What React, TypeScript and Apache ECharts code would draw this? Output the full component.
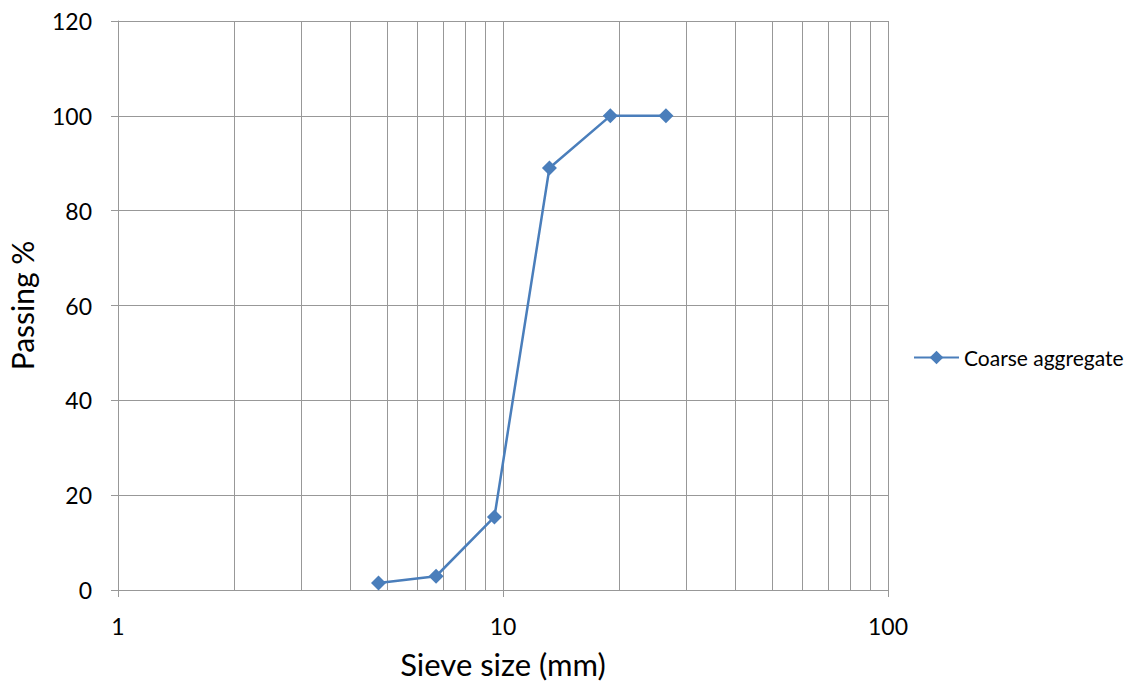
import React, { useEffect, useRef } from "react";
import * as echarts from "echarts";

const sieveSizes = [4.75, 6.7, 9.5, 13.2, 19, 26.5];
const passing = [1.5, 2.9, 15.4, 89, 100, 100];
const minorGridX = [2, 3, 4, 5, 6, 7, 8, 9, 20, 30, 40, 50, 60, 70, 80, 90];
const seriesName = "Coarse aggregate";

export default function App() {
  const ref = useRef<HTMLDivElement>(null);
  useEffect(() => {
    document.body.style.margin = "0";
    const chart = echarts.init(ref.current!, undefined, { renderer: "svg" });
    const font = "Lato, 'Open Sans', sans-serif";
    const gridColor = "#989898";
    chart.setOption({
      animation: false,
      backgroundColor: "#ffffff",
      textStyle: { fontFamily: font },
      grid: { left: 118, right: 243, top: 21, bottom: 96, containLabel: false, outerBoundsMode: "none" },
      legend: {
        left: 908,
        top: 342,
        itemWidth: 45,
        itemHeight: 17,
        itemGap: 6,
        textStyle: { fontSize: 21, color: "#000", fontFamily: font },
        data: [seriesName],
      },
      xAxis: {
        type: "log",
        logBase: 10,
        min: 1,
        max: 100,
        name: "Sieve size (mm)",
        nameLocation: "middle",
        nameGap: 58,
        nameTextStyle: { fontSize: 31, color: "#000", fontFamily: font },
        axisLine: { show: true, lineStyle: { color: gridColor, width: 1 } },
        axisTick: { show: true, length: 7, lineStyle: { color: gridColor } },
        axisLabel: { fontSize: 23, color: "#000", margin: 24, fontFamily: font },
        splitLine: { show: true, lineStyle: { color: gridColor, width: 1 } },
        minorTick: { show: false },
        minorSplitLine: { show: false },
      },
      yAxis: {
        type: "value",
        min: 0,
        max: 120,
        interval: 20,
        name: "Passing %",
        nameLocation: "middle",
        nameGap: 81,
        nameTextStyle: { fontSize: 30, color: "#000", fontFamily: font },
        axisLine: { show: true, lineStyle: { color: gridColor, width: 1 } },
        axisTick: { show: true, length: 7, lineStyle: { color: gridColor } },
        axisLabel: { fontSize: 23, color: "#000", margin: 26, fontFamily: font },
        splitLine: { show: true, lineStyle: { color: gridColor, width: 1 } },
      },
      series: [
        {
          name: seriesName,
          type: "line",
          data: sieveSizes.map((x, i) => [x, passing[i]]),
          symbol: "diamond",
          symbolSize: 15,
          lineStyle: { color: "#4a7ebb", width: 2.5 },
          itemStyle: { color: "#4a7ebb" },
          markLine: {
            silent: true,
            symbol: "none",
            label: { show: false },
            lineStyle: { color: gridColor, width: 1, type: "solid" },
            data: minorGridX.map((v) => ({ xAxis: v })),
            z: 0,
          },
        },
      ],
    });
    return () => chart.dispose();
  }, []);
  return <div ref={ref} style={{ width: 1131, height: 686 }} />;
}
